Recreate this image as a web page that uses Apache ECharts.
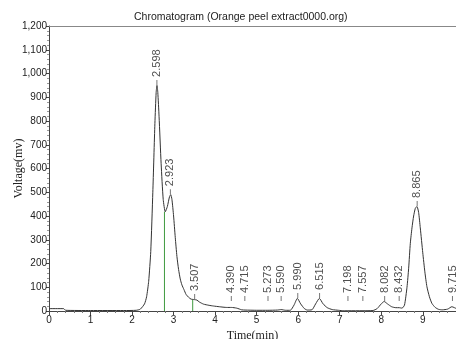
<!DOCTYPE html>
<html>
<head>
<meta charset="utf-8">
<script src="https://cdn.jsdelivr.net/npm/echarts@6/dist/echarts.min.js"></script>
<style>
html,body{margin:0;padding:0;background:#fff;}
#chart{width:456px;height:339px;}
</style>
</head>
<body>
<div id="chart"></div>
<script>
// Chromatogram trace (time in min, voltage in mV)
var traceTime = [0, 0.35, 0.40, 1.0, 1.8, 2.1, 2.2, 2.3, 2.35, 2.4, 2.45, 2.5, 2.55, 2.58, 2.60, 2.62, 2.65, 2.70, 2.75, 2.80, 2.85, 2.90, 2.93, 2.96, 3.00, 3.04, 3.08, 3.12, 3.16, 3.20, 3.25, 3.30, 3.36, 3.42, 3.50, 3.56, 3.62, 3.72, 3.85, 3.96, 4.1, 4.28, 4.39, 4.52, 4.64, 4.72, 5.0, 5.27, 5.5, 5.59, 5.70, 5.81, 5.90, 5.98, 6.06, 6.15, 6.22, 6.33, 6.42, 6.51, 6.60, 6.70, 6.82, 6.97, 7.1, 7.2, 7.56, 7.8, 7.9, 8.0, 8.07, 8.15, 8.25, 8.35, 8.43, 8.50, 8.56, 8.62, 8.66, 8.70, 8.74, 8.78, 8.82, 8.86, 8.90, 8.94, 9.0, 9.05, 9.10, 9.16, 9.22, 9.30, 9.38, 9.47, 9.6, 9.70, 9.75, 9.81];
var traceVolt = [10, 10, 3, 2, 2, 3, 8, 30, 60, 125, 250, 500, 790, 920, 950, 920, 820, 620, 470, 418, 440, 480, 490, 470, 400, 310, 230, 175, 135, 110, 90, 70, 58, 50, 48, 46, 38, 29, 24, 21, 18, 15, 15, 12, 5, 4, 3, 3, 4, 6, 3, 3, 25, 53, 30, 10, 4, 5, 30, 53, 30, 14, 6, 3, 1, 1, 1, 2, 10, 30, 40, 30, 18, 14, 14, 12, 25, 100, 180, 285, 350, 400, 432, 440, 415, 350, 245, 165, 102, 60, 32, 15, 7, 5, 8, 18, 15, 10];

// Peak annotations
var peakTimes = [2.598, 2.923, 3.507, 4.390, 4.715, 5.273, 5.590, 5.990, 6.515, 7.198, 7.557, 8.082, 8.432, 8.865, 9.715];
var peakHeights = [950, 490, 48, 15, 5, 3, 6, 53, 53, 1, 1, 40, 14, 440, 18];
var peakLabels = ["2.598", "2.923", "3.507", "4.390", "4.715", "5.273", "5.590", "5.990", "6.515", "7.198", "7.557", "8.082", "8.432", "8.865", "9.715"];

// Drop lines (peak separation)
var dropTimes = [2.78, 3.46];
var dropHeights = [418, 48];

// Axis ticks
var xTicks = [0, 1, 2, 3, 4, 5, 6, 7, 8, 9];
var yTicks = [0, 100, 200, 300, 400, 500, 600, 700, 800, 900, 1000, 1100, 1200];

var traceData = traceTime.map(function (t, i) { return [t, traceVolt[i]]; });
var peakData = peakTimes.map(function (t, i) {
  return { value: [t, Math.max(peakHeights[i], 40)], label: { formatter: peakLabels[i] } };
});
var dropData = dropTimes.map(function (t, i) { return [t, dropHeights[i]]; });

var chart = echarts.init(document.getElementById('chart'), null, { renderer: 'canvas' });
chart.setOption({
  animation: false,
  backgroundColor: '#fff',
  title: {
    text: 'Chromatogram (Orange peel extract0000.org)',
    left: 134, top: 12, padding: 0,
    textStyle: { fontFamily: 'Liberation Sans', fontSize: 10.5, fontWeight: 'normal', color: '#222' }
  },
  grid: { left: 49, right: 0, top: 26, bottom: 28, containLabel: false, outerBoundsMode: 'none' },
  xAxis: [{
    type: 'value', min: 0, max: 9.8, interval: 1,
    name: 'Time(min)', nameLocation: 'middle', nameGap: 19, nameMoveOverlap: false,
    nameTextStyle: { fontFamily: 'Liberation Serif', fontSize: 12, color: '#222' },
    axisLine: { show: true, lineStyle: { color: '#444', width: 1 } },
    axisTick: { show: true, length: 4, lineStyle: { color: '#444' } },
    minorTick: { show: true, splitNumber: 5, length: 2, lineStyle: { color: '#777' } },
    axisLabel: {
      fontFamily: 'Liberation Sans', fontSize: 10, color: '#222', margin: 4,
      showMaxLabel: false,
      formatter: function (v) { return xTicks.indexOf(v) >= 0 ? String(v) : ''; }
    },
    splitLine: { show: false }
  }, {
    type: 'value', min: 0, max: 9.8, position: 'top',
    axisLine: { show: true, onZero: false, lineStyle: { color: '#888', width: 1 } },
    axisTick: { show: false }, axisLabel: { show: false }, splitLine: { show: false }
  }],
  yAxis: {
    type: 'value', min: 0, max: 1200, interval: 100,
    name: 'Voltage(mv)', nameLocation: 'middle', nameGap: 24, nameMoveOverlap: false,
    nameTextStyle: { fontFamily: 'Liberation Serif', fontSize: 12, color: '#222' },
    axisLine: { show: true, lineStyle: { color: '#444', width: 1 } },
    axisTick: { show: true, length: 3, lineStyle: { color: '#444' } },
    minorTick: { show: true, splitNumber: 5, length: 2, lineStyle: { color: '#999' } },
    axisLabel: {
      fontFamily: 'Liberation Sans', fontSize: 10, color: '#222', margin: 2,
      formatter: function (v) { return yTicks.indexOf(v) >= 0 ? v.toLocaleString('en-US') : ''; }
    },
    splitLine: { show: false }
  },
  series: [{
    type: 'bar', data: dropData, barWidth: 1, itemStyle: { color: '#3f9a3f' }, silent: true, z: 1
  }, {
    type: 'line', data: traceData, showSymbol: false, symbol: 'none', smooth: 0.2,
    lineStyle: { color: '#333', width: 1 }, z: 3, silent: true
  }, {
    type: 'scatter', data: peakData, symbol: 'rect', symbolSize: [1, 5], symbolOffset: [0, -3],
    itemStyle: { color: '#555' }, z: 4, silent: true,
    label: {
      show: true, position: 'top', distance: 3, rotate: 90,
      align: 'left', verticalAlign: 'middle',
      fontFamily: 'Liberation Sans', fontSize: 11, color: '#222'
    }
  }]
});
</script>
</body>
</html>
